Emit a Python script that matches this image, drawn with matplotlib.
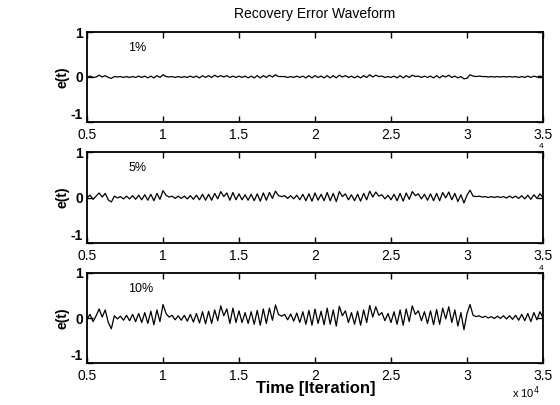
import numpy as np
import matplotlib
import matplotlib.pyplot as plt
from matplotlib.ticker import FuncFormatter

matplotlib.use('Agg')
plt.rcParams['font.family'] = ['Liberation Sans', 'DejaVu Sans']
plt.rcParams['axes.unicode_minus'] = False

# time axis, one sample every 200 iterations
iterations = np.arange(5000, 35001, 200)

# recovery error, 1% noise
err_1 = [-0.01, 0.02, -0.01, 0.00, 0.04, 0.00, 0.03, -0.01, -0.03, 0.01,
         0.00, 0.01, -0.01, 0.01, -0.01, 0.01, -0.01, 0.02, -0.01, 0.02,
         -0.02, 0.02, -0.02, 0.03, -0.01, 0.05, 0.01, 0.00, 0.01, -0.01,
         0.01, -0.01, 0.01, -0.01, 0.02, -0.01, 0.02, -0.02, 0.03, -0.01,
         0.03, -0.01, 0.04, 0.00, 0.03, 0.00, 0.03, -0.01, 0.02, -0.01,
         0.02, -0.01, 0.02, -0.02, 0.02, -0.02, 0.03, -0.02, 0.03, -0.01,
         0.04, 0.00, 0.05, 0.01, 0.01, 0.01, -0.01, 0.01, -0.01, 0.02,
         -0.01, 0.02, -0.02, 0.03, -0.02, 0.03, -0.01, 0.02, -0.02, 0.03,
         -0.02, 0.03, -0.02, 0.04, 0.00, 0.03, -0.01, 0.02, -0.02, 0.02,
         -0.02, 0.03, -0.01, 0.05, 0.00, 0.04, 0.01, 0.02, -0.01, 0.01,
         -0.01, 0.02, -0.02, 0.03, -0.02, 0.03, -0.01, 0.04, 0.01, 0.02,
         -0.01, 0.02, -0.01, 0.02, -0.02, 0.03, -0.02, 0.03, 0.00, 0.04,
         -0.01, 0.02, -0.02, 0.01, -0.04, -0.03, 0.05, 0.02, 0.01, 0.02,
         0.01, 0.01, 0.00, 0.01, 0.00, 0.01, 0.00, 0.01, 0.00, 0.01,
         0.00, 0.01, -0.01, 0.01, -0.01, 0.02, -0.01, 0.02, 0.00, 0.02,
         0.00]

# 5% noise
err_5 = [0.00, 0.05, -0.04, 0.03, 0.10, 0.01, 0.09, -0.05, -0.10, 0.03,
         -0.01, 0.02, -0.03, 0.03, -0.03, 0.04, -0.04, 0.05, -0.05, 0.06,
         -0.06, 0.07, -0.07, 0.09, -0.04, 0.15, 0.05, 0.01, 0.03, -0.02,
         0.03, -0.02, 0.03, -0.03, 0.04, -0.04, 0.05, -0.05, 0.07, -0.06,
         0.07, -0.06, 0.09, -0.03, 0.13, 0.02, 0.10, -0.06, 0.11, -0.05,
         0.08, -0.05, 0.06, -0.06, 0.07, -0.07, 0.08, -0.08, 0.10, -0.06,
         0.11, -0.02, 0.14, 0.04, 0.02, 0.04, -0.02, 0.04, -0.03, 0.05,
         -0.05, 0.07, -0.07, 0.08, -0.08, 0.10, -0.06, 0.07, -0.07, 0.11,
         -0.07, 0.09, -0.09, 0.13, 0.02, 0.08, -0.05, 0.06, -0.07, 0.07,
         -0.08, 0.09, -0.05, 0.14, 0.01, 0.12, 0.03, 0.06, -0.03, 0.05,
         -0.05, 0.07, -0.07, 0.09, -0.08, 0.10, -0.04, 0.13, 0.04, 0.08,
         -0.03, 0.07, -0.06, 0.08, -0.07, 0.09, -0.07, 0.11, -0.01, 0.12,
         -0.05, 0.09, -0.09, 0.06, -0.12, 0.05, 0.16, 0.03, 0.02, 0.03,
         0.01, 0.02, 0.00, 0.02, 0.00, 0.02, 0.00, 0.02, -0.01, 0.03,
         -0.01, 0.03, -0.02, 0.04, -0.03, 0.05, -0.04, 0.06, -0.02, 0.08,
         0.00]

# 10% noise
err_10 = [-0.02, 0.08, -0.08, 0.05, 0.20, 0.02, 0.18, -0.10, -0.24, 0.05,
          -0.02, 0.04, -0.05, 0.06, -0.06, 0.08, -0.08, 0.10, -0.10, 0.12,
          -0.12, 0.15, -0.15, 0.18, -0.08, 0.30, 0.10, 0.02, 0.06, -0.04,
          0.05, -0.05, 0.06, -0.07, 0.08, -0.09, 0.10, -0.11, 0.14, -0.13,
          0.15, -0.12, 0.18, -0.06, 0.27, 0.05, 0.20, -0.12, 0.22, -0.10,
          0.16, -0.10, 0.12, -0.12, 0.14, -0.14, 0.17, -0.16, 0.20, -0.12,
          0.22, -0.05, 0.29, 0.08, 0.04, 0.08, -0.04, 0.09, -0.07, 0.11,
          -0.10, 0.14, -0.14, 0.17, -0.16, 0.20, -0.12, 0.15, -0.15, 0.22,
          -0.14, 0.18, -0.18, 0.26, 0.05, 0.16, -0.10, 0.12, -0.14, 0.15,
          -0.16, 0.18, -0.10, 0.28, 0.02, 0.25, 0.06, 0.12, -0.06, 0.10,
          -0.10, 0.14, -0.14, 0.18, -0.16, 0.20, -0.08, 0.27, 0.08, 0.16,
          -0.06, 0.14, -0.12, 0.16, -0.15, 0.19, -0.14, 0.22, -0.02, 0.25,
          -0.10, 0.18, -0.18, 0.12, -0.26, 0.10, 0.30, 0.06, 0.03, 0.05,
          0.01, 0.04, 0.00, 0.03, -0.01, 0.04, -0.01, 0.05, -0.02, 0.05,
          -0.03, 0.06, -0.05, 0.08, -0.06, 0.10, -0.08, 0.12, -0.04, 0.14,
          0.00]

series = [err_1, err_5, err_10]
labels = ['1%', '5%', '10%']
x_ticks = [5000, 10000, 15000, 20000, 25000, 30000, 35000]
y_ticks = [-1, 0, 1]

W, H = 560, 405
fig = plt.figure(figsize=(W / 100, H / 100), dpi=100)

# axes boxes in pixels: (top, bottom)
boxes = [(32, 122), (152, 243), (273, 363)]
left_px, right_px = 87, 543

for k, (top, bot) in enumerate(boxes):
    ax = fig.add_axes([left_px / W, 1 - bot / H, (right_px - left_px) / W, (bot - top) / H])
    ax.plot(iterations, series[k], color='black', lw=0.9)
    ax.set_xlim(5000, 35000)
    ax.set_ylim(-1, 1)
    ax.set_xticks(x_ticks)
    ax.set_yticks(y_ticks)
    ax.xaxis.set_major_formatter(FuncFormatter(lambda v, p: '%g' % (v / 1e4)))
    ax.tick_params(direction='in', top=True, right=True, length=4, width=1,
                   labelsize=10)
    ax.tick_params(axis='x', pad=4)
    ax.tick_params(axis='y', pad=3)
    for lab in ax.get_yticklabels():
        lab.set_fontweight('bold')
    # lift the -1 a little so it clears the 0.5 below it
    ax.get_yticklabels()[0].set_va('bottom')
    for s in ax.spines.values():
        s.set_linewidth(1.3)
    ax.set_ylabel('e(t)', fontsize=10, fontweight='bold', labelpad=1)
    ax.text(7700, 0.58, labels[k], fontsize=9)
    if k > 0:
        fig.text(541 / W, 1 - (top - 5) / H, '4', fontsize=6, ha='center', va='center')

fig.text(315 / W, 1 - 14 / H, 'Recovery Error Waveform', fontsize=10,
         ha='center', va='center')
fig.text(316 / W, 1 - 389 / H, 'Time [Iteration]', fontsize=12,
         fontweight='bold', ha='center', va='center')
fig.text(512 / W, 1 - 393 / H, 'x 10$^4$', fontsize=8, ha='left', va='center')

fig.savefig('out.png', dpi=100)
